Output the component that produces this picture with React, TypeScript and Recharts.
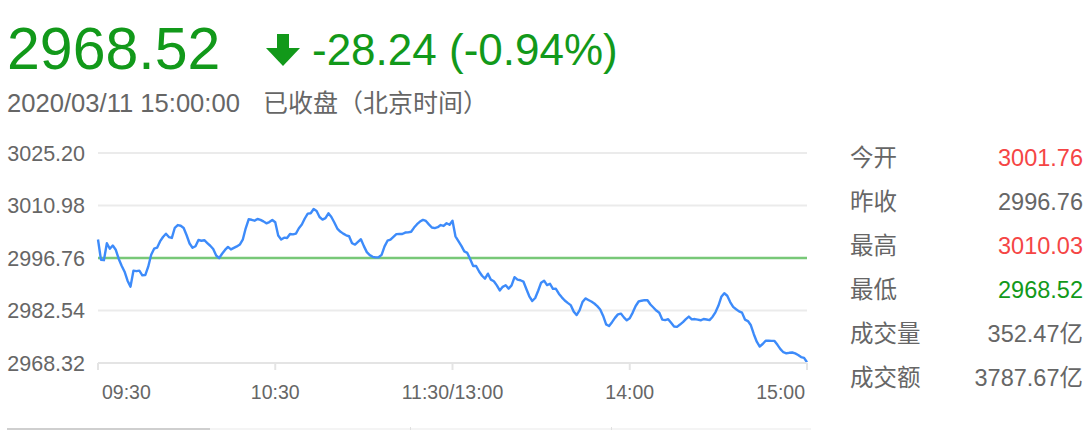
import React from 'react';
import {
  LineChart,
  Line,
  XAxis,
  YAxis,
  CartesianGrid,
  ReferenceLine,
} from 'recharts';

// 上证指数 2020/03/11 分时 (one value per minute, 09:30-11:30 / 13:00-15:00)
const prices = [
  3001.76, 2996.30, 2996.17, 3000.76, 2999.27, 3000.14, 2999.00, 2996.57, 2994.68, 2993.06,
  2990.62, 2989.00, 2993.33, 2993.19, 2993.33, 2992.08, 2992.11, 2994.41, 2997.65, 2999.27,
  2999.54, 3001.25, 3002.44, 3003.33, 3002.44, 3002.19, 3004.95, 3005.68, 3005.49, 3004.90,
  3002.92, 3000.68, 2999.54, 2999.95, 3001.63, 3001.44, 3001.57, 3000.81, 3000.08, 2999.19,
  2997.44, 2996.71, 2997.92, 2998.95, 2999.76, 2999.08, 2999.49, 2999.90, 3000.41, 3001.71,
  3004.81, 3007.25, 3007.11, 3006.87, 3007.33, 3007.09, 3006.68, 3006.14, 3006.49, 3007.06,
  3006.44, 3002.84, 3001.79, 3002.27, 3002.19, 3003.25, 3003.17, 3003.38, 3004.81, 3005.81,
  3007.46, 3008.79, 3008.87, 3010.03, 3009.50, 3007.87, 3007.17, 3007.55, 3008.87, 3007.87,
  3006.38, 3004.73, 3003.92, 3003.36, 3002.90, 3002.65, 3000.76, 3000.38, 3001.11, 3001.84,
  2999.98, 2998.35, 2997.54, 2997.08, 2996.92, 2996.98, 2997.62, 2999.90, 3001.44, 3001.71,
  3002.46, 3003.22, 3003.25, 3003.27, 3003.65, 3003.71, 3003.87, 3005.00, 3005.92, 3006.63,
  3007.09, 3006.79, 3005.87, 3005.03, 3004.87, 3005.11, 3005.68, 3005.44, 3006.17, 3005.76,
  3006.84, 3002.63, 3001.33, 3000.06, 2998.54, 2998.14, 2996.44, 2994.60, 2994.60, 2993.11,
  2991.95, 2991.16, 2992.52, 2990.89, 2990.46, 2989.33, 2987.97, 2988.95, 2989.38, 2988.46,
  2989.33, 2991.57, 2990.89, 2990.73, 2990.38, 2988.35, 2986.38, 2985.11, 2985.92, 2987.89,
  2990.08, 2990.62, 2989.41, 2989.79, 2988.41, 2988.43, 2987.11, 2986.11, 2985.25, 2984.60,
  2984.00, 2982.30, 2981.30, 2982.57, 2984.81, 2985.81, 2985.38, 2984.97, 2984.43, 2983.73,
  2982.81, 2981.06, 2978.79, 2978.35, 2979.38, 2980.54, 2981.49, 2981.70, 2980.68, 2979.89,
  2980.43, 2981.97, 2983.76, 2984.97, 2985.19, 2985.35, 2985.33, 2984.16, 2983.35, 2982.52,
  2981.92, 2980.08, 2979.92, 2980.19, 2979.19, 2978.22, 2978.11, 2978.73, 2979.41, 2980.22,
  2980.89, 2980.14, 2980.22, 2980.06, 2979.89, 2980.24, 2980.11, 2979.95, 2980.79, 2982.06,
  2983.81, 2986.25, 2987.22, 2986.54, 2984.84, 2983.54, 2982.89, 2982.30, 2981.97, 2980.08,
  2979.68, 2978.54, 2976.11, 2974.08, 2972.78, 2973.46, 2974.35, 2974.38, 2974.30, 2974.30,
  2973.24, 2972.08, 2971.24, 2970.95, 2971.08, 2971.16, 2970.92, 2970.49, 2969.92, 2969.70,
  2968.52,
];

const tickMinutes = [0, 60, 120, 180, 240];
const tickLabels = ['09:30', '10:30', '11:30/13:00', '14:00', '15:00'];
const yTicks = [2968.32, 2982.54, 2996.76, 3010.98, 3025.2];
const prevClose = 2996.76;

const lastPrice = '2968.52';
const change = '-28.24 (-0.94%)';
const stamp = '2020/03/11 15:00:00';
const status = '已收盘（北京时间）';

const statLabels = ['今开', '昨收', '最高', '最低', '成交量', '成交额'];
const statValues = ['3001.76', '2996.76', '3010.03', '2968.52', '352.47亿', '3787.67亿'];

const data = prices.map((p, i) => ({ i, price: p }));

const FONT = '"Liberation Sans", Arial, "Noto Sans CJK SC", sans-serif';
const GREEN = '#12991a';
const RED = '#f54545';
const GRAY = '#666';

const XTick = (props: any) => {
  const { x, y, payload } = props;
  const idx = tickMinutes.indexOf(payload.value);
  const last = tickMinutes.length - 1;
  const anchor = idx === 0 ? 'start' : idx === last ? 'end' : 'middle';
  const dx = idx === 0 ? 4 : idx === last ? -2 : 0;
  return (
    <text x={x + dx} y={y} dy={28.5} textAnchor={anchor} fill={GRAY} fontSize={19.5} fontFamily={FONT}>
      {tickLabels[idx]}
    </text>
  );
};

const YTick = (props: any) => {
  const { x, y, payload } = props;
  return (
    <text x={x} y={y} dy={7.6} textAnchor="end" fill={GRAY} fontSize={21.5} fontFamily={FONT}>
      {payload.value.toFixed(2)}
    </text>
  );
};

const statColor = (i: number) => {
  if (i > 3) return GRAY;
  const v = parseFloat(statValues[i]);
  if (v > prevClose) return RED;
  if (v < prevClose) return GREEN;
  return GRAY;
};

const abs = (left: number, top: number): React.CSSProperties => ({
  position: 'absolute',
  left,
  top,
  whiteSpace: 'nowrap',
  fontFamily: FONT,
});

export default function App() {
  return (
    <div style={{ position: 'absolute', left: 0, top: 0, width: 1089, height: 430, background: '#fff', overflow: 'hidden' }}>
      <div style={{ ...abs(7, 20), fontSize: 59, lineHeight: '59px', color: GREEN }}>{lastPrice}</div>
      <svg style={{ position: 'absolute', left: 266, top: 34 }} width={34} height={32}>
        <rect x={11} y={0} width={12} height={15} fill={GREEN} />
        <polygon points="0,14 34,14 17,32" fill={GREEN} />
      </svg>
      <div style={{ ...abs(312, 28), fontSize: 44, lineHeight: '44px', color: GREEN }}>{change}</div>
      <div style={{ ...abs(7, 91), fontSize: 25.6, lineHeight: '25.6px', color: GRAY }}>{stamp}</div>
      <div style={{ ...abs(263, 91), fontSize: 25, lineHeight: '25.6px', color: GRAY }}>{status}</div>

      <div style={{ position: 'absolute', left: 0, top: 130 }}>
        <LineChart width={820} height={290} data={data} margin={{ top: 23, right: 13, bottom: 17, left: 8 }}>
          <CartesianGrid vertical={false} stroke="#ebebeb" strokeWidth={2} />
          <XAxis
            type="number"
            dataKey="i"
            domain={[0, 240]}
            ticks={tickMinutes}
            interval={0}
            height={40}
            tickSize={7}
            tickMargin={0}
            axisLine={{ stroke: '#e4e4e4', strokeWidth: 2 }}
            tickLine={{ stroke: '#e4e4e4', strokeWidth: 2 }}
            tick={<XTick />}
          />
          <YAxis
            type="number"
            domain={[2968.32, 3025.2]}
            ticks={yTicks}
            interval={0}
            width={90}
            tickSize={0}
            tickMargin={13}
            axisLine={false}
            tickLine={false}
            tick={<YTick />}
          />
          <ReferenceLine y={prevClose} stroke="#78c878" strokeWidth={2.4} />
          <Line
            type="linear"
            dataKey="price"
            stroke="#3d8bfa"
            strokeWidth={2.4}
            strokeLinejoin="round"
            dot={false}
            isAnimationActive={false}
          />
        </LineChart>
      </div>

      {statLabels.map((label, i) => (
        <React.Fragment key={label}>
          <div style={{ ...abs(850, 146.6 + i * 44), fontSize: 23.5, lineHeight: '23.5px', color: GRAY }}>{label}</div>
          <div
            style={{
              position: 'absolute',
              right: 6,
              top: 146.6 + i * 44,
              fontFamily: FONT,
              fontSize: 23.5,
              lineHeight: '23.5px',
              color: statColor(i),
              whiteSpace: 'nowrap',
            }}
          >
            {statValues[i]}
          </div>
        </React.Fragment>
      ))}

      <div style={{ position: 'absolute', left: 7, top: 428, width: 203, height: 2, background: '#cfcfcf' }} />
      <div style={{ position: 'absolute', left: 210, top: 428, width: 601, height: 2, background: '#f4f4f4' }} />
      <div style={{ position: 'absolute', left: 410, top: 427, width: 1, height: 3, background: '#e0e0e0' }} />
      <div style={{ position: 'absolute', left: 611, top: 427, width: 1, height: 3, background: '#e0e0e0' }} />
    </div>
  );
}
